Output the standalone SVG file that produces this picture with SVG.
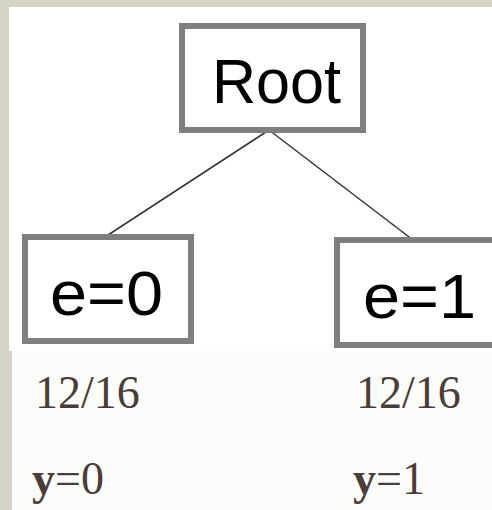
<svg xmlns="http://www.w3.org/2000/svg" width="492" height="510" viewBox="0 0 492 510">
<style>
.box{fill:#ffffff;stroke:#7f7f7f;stroke-width:6}
.lbl{font-family:"Liberation Sans",Arial,sans-serif;font-size:63px;fill:#000000}
.val{font-family:"Liberation Serif","Times New Roman",serif;font-size:46px;fill:#4a3c38}
.edge{stroke:#333333;stroke-width:1.5;fill:none}
</style>
<rect x="0" y="0" width="492" height="510" fill="#d6d2c6"/>
<rect x="9" y="7" width="483" height="344" fill="#ffffff"/>
<rect x="12" y="351" width="480" height="159" fill="#fcfcfa"/>
<g id="connectors">
<line class="edge" x1="269" y1="130" x2="105" y2="237"/>
<line class="edge" x1="269" y1="130" x2="413" y2="240"/>
</g>
<g id="root">
<rect class="box" x="182" y="26" width="181" height="104"/>
<text class="lbl" x="212" y="103" textLength="129" lengthAdjust="spacingAndGlyphs">Root</text>
</g>
<g id="e0">
<rect class="box" x="25" y="237" width="166" height="104"/>
<text class="lbl" x="50" y="315" textLength="113" lengthAdjust="spacingAndGlyphs">e=0</text>
</g>
<g id="e1">
<rect class="box" x="337" y="240" width="170" height="105"/>
<text class="lbl" x="363" y="318" textLength="113" lengthAdjust="spacingAndGlyphs">e=1</text>
</g>
<g id="labels">
<text class="val" x="35" y="408">12/16</text>
<text class="val" x="356" y="408">12/16</text>
<text class="val" x="32" y="494"><tspan font-weight="bold">y</tspan>=0</text>
<text class="val" x="353" y="494"><tspan font-weight="bold">y</tspan>=1</text>
</g>
</svg>
